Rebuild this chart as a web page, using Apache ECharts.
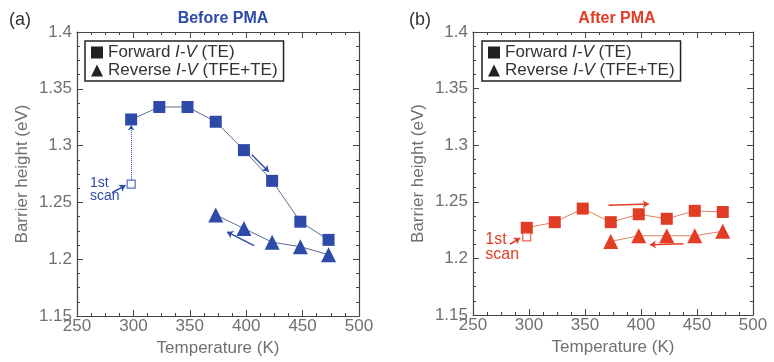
<!DOCTYPE html>
<html>
<head>
<meta charset="utf-8">
<script src="https://cdn.jsdelivr.net/npm/echarts@6/dist/echarts.min.js"></script>
<style>
html,body{margin:0;padding:0;background:#fff;}
#chart{width:774px;height:362px;}
</style>
</head>
<body>
<div id="chart"></div>
<script>
// (a) before PMA
var tempsA = [298, 323, 348, 373, 398, 423, 448, 473];
var fwdA = [1.323, 1.334, 1.334, 1.321, 1.296, 1.269, 1.233, 1.217];
var revTempsA = [373, 398, 423, 448, 473];
var revA = [1.239, 1.227, 1.215, 1.211, 1.204];
var firstScanA = [[298, 1.266]];
// (b) after PMA
var tempsB = [298, 323, 348, 373, 398, 423, 448, 473];
var fwdB = [1.227, 1.232, 1.244, 1.232, 1.239, 1.235, 1.242, 1.241];
var revTempsB = [373, 398, 423, 448, 473];
var revB = [1.215, 1.220, 1.220, 1.220, 1.224];
var firstScanB = [[298, 1.219]];

var xTicks = ['250', '300', '350', '400', '450', '500'];
var yTicks = ['1.15', '1.2', '1.25', '1.3', '1.35', '1.4'];

// arrows drawn in data units [x1,y1,x2,y2]
var arrowsA = [[405, 1.292, 420, 1.277], [407, 1.212, 383, 1.224]];
var arrowsB = [[371, 1.247, 407, 1.248], [438, 1.213, 408, 1.212]];
var scanArrowA = [[298, 1.269, 298, 1.318]];
var scanPtrA = [[281, 1.2585, 293, 1.265]];
var scanPtrB = [[283, 1.2125, 292, 1.218]];
// "1st scan" text anchor (top-left) and font size
var scanLabelA = [261.5, 1.2725, 14];
var scanLabelB = [261.0, 1.2235, 16];

var blue = '#2d4aa8', red = '#e23b26';
var axisColor = '#444', textColor = '#707070';

function pairs(xs, ys){
    var out = [];
    for (var i = 0; i < xs.length; i++) out.push([xs[i], ys[i]]);
    return out;
}
function arrowLines(list){
    return list.map(function(a){ return [{coord:[a[0], a[1]]}, {coord:[a[2], a[3]]}]; });
}
function yFmt(v){ return yTicks[Math.round((v - 1.15) / 0.05)]; }
function xFmt(v){ return xTicks[Math.round((v - 250) / 50)]; }

function xAx(grid, top){
    return {
        gridIndex: grid, type: 'value', min: 250, max: 500, interval: 50,
        position: top ? 'top' : 'bottom',
        name: top ? '' : 'Temperature (K)', nameLocation: 'middle', nameGap: 24,
        nameTextStyle: {color: textColor, fontSize: 17, fontFamily: 'Liberation Sans'},
        axisLine: {lineStyle: {color: axisColor, width: 1.2}},
        axisTick: {inside: true, length: 6, lineStyle: {color: axisColor}},
        minorTick: {show: true, splitNumber: 4, length: 3, lineStyle: {color: axisColor}},
        axisLabel: {show: !top, margin: 2, color: textColor, fontSize: 17, fontFamily: 'Liberation Sans', formatter: xFmt},
        splitLine: {show: false}
    };
}
function yAx(grid, right){
    return {
        gridIndex: grid, type: 'value', min: 1.15, max: 1.4, interval: 0.05,
        position: right ? 'right' : 'left',
        name: right ? '' : 'Barrier height (eV)', nameLocation: 'middle', nameGap: 46,
        nameTextStyle: {color: textColor, fontSize: 17, fontFamily: 'Liberation Sans'},
        axisLine: {lineStyle: {color: axisColor, width: 1.2}},
        axisTick: {inside: true, length: 6, lineStyle: {color: axisColor}},
        minorTick: {show: true, splitNumber: 4, length: 3, lineStyle: {color: axisColor}},
        axisLabel: {show: !right, margin: 5, color: textColor, fontSize: 17, fontFamily: 'Liberation Sans', formatter: yFmt},
        splitLine: {show: false}
    };
}

function panelSeries(xi, yi, color, lineColor, fwd, rev, first, arrows, scanArrow, scanPtr, scanLabel){
    var list = [
        {
            name: 'Forward', type: 'line', xAxisIndex: xi, yAxisIndex: yi, data: fwd,
            symbol: 'rect', symbolSize: 12, itemStyle: {color: color},
            lineStyle: {color: lineColor, width: 1}, z: 3,
            markLine: {
                silent: true, symbol: ['none', 'arrow'], symbolSize: 6,
                lineStyle: {color: color, width: 1.4, type: 'solid'}, label: {show: false},
                data: arrowLines(arrows)
            }
        },
        {
            name: 'Reverse', type: 'line', xAxisIndex: xi, yAxisIndex: yi, data: rev,
            symbol: 'triangle', symbolSize: 15, itemStyle: {color: color},
            lineStyle: {color: lineColor, width: 1}, z: 3
        },
        {
            name: 'first', type: 'scatter', xAxisIndex: xi, yAxisIndex: yi, data: first,
            symbol: 'rect', symbolSize: 8,
            itemStyle: {color: '#fff', borderColor: color, borderWidth: 1.2}, z: 4,
            markLine: {
                silent: true, symbol: ['none', 'arrow'], symbolSize: 6, label: {show: false},
                lineStyle: {color: color, width: 1.5, type: 'solid'},
                data: arrowLines(scanPtr)
            },
            markPoint: {
                silent: true, symbol: 'rect', symbolSize: 0,
                label: {show: true, formatter: '1st\nscan', color: color, fontSize: scanLabel[2],
                    lineHeight: scanLabel[2] - 1,
                    fontFamily: 'Liberation Sans', align: 'left', verticalAlign: 'top', position: 'inside'},
                data: [{coord: [scanLabel[0], scanLabel[1]]}]
            }
        }
    ];
    if (scanArrow) {
        list.push({
            name: 'scanArrow', type: 'scatter', xAxisIndex: xi, yAxisIndex: yi, data: [],
            markLine: {
                silent: true, symbol: ['none', 'arrow'], symbolSize: 5, label: {show: false},
                lineStyle: {color: color, width: 1, type: 'dotted'},
                data: arrowLines(scanArrow)
            }
        });
    }
    return list;
}

function legendFor(left){
    return {
        left: left, top: 41, orient: 'vertical', itemGap: 1, itemWidth: 12, itemHeight: 12,
        borderColor: '#222', borderWidth: 1.5, padding: [3, 6, 2, 6],
        selectedMode: false,
        itemStyle: {color: '#222'},
        lineStyle: {width: 0},
        textStyle: {
            color: '#333', fontSize: 17, fontFamily: 'Liberation Sans',
            rich: {
                n: {fontSize: 17, color: '#333', fontFamily: 'Liberation Sans'},
                i: {fontSize: 17, color: '#333', fontStyle: 'italic', fontFamily: 'Liberation Sans'}
            }
        },
        formatter: function(name){
            return name === 'Forward' ? '{n|Forward }{i|I-V}{n| (TE)}' : '{n|Reverse }{i|I-V}{n| (TFE+TE)}';
        },
        data: [{name: 'Forward', icon: 'rect'}, {name: 'Reverse', icon: 'triangle'}]
    };
}

var myChart = echarts.init(document.getElementById('chart'));
var option = {
    backgroundColor: '#fff',
    animation: false,
    title: [
        {text: 'Before PMA', left: 218, top: 6, textAlign: 'center',
            textStyle: {color: blue, fontSize: 16, fontWeight: 'bold', fontFamily: 'Liberation Sans'}},
        {text: 'After PMA', left: 612, top: 6, textAlign: 'center',
            textStyle: {color: red, fontSize: 16, fontWeight: 'bold', fontFamily: 'Liberation Sans'}},
        {text: '(a)', left: 4, top: 6, textStyle: {color: '#333', fontSize: 18, fontWeight: 'normal', fontFamily: 'Liberation Sans'}},
        {text: '(b)', left: 404, top: 6, textStyle: {color: '#333', fontSize: 18, fontWeight: 'normal', fontFamily: 'Liberation Sans'}}
    ],
    legend: [legendFor(85), legendFor(482)],
    grid: [
        {left: 77, top: 32, width: 282, height: 284},
        {left: 473, top: 32, width: 280, height: 283}
    ],
    xAxis: [xAx(0, false), xAx(0, true), xAx(1, false), xAx(1, true)],
    yAxis: [yAx(0, false), yAx(0, true), yAx(1, false), yAx(1, true)],
    series: [].concat(
        panelSeries(0, 0, blue, '#5d6b95', pairs(tempsA, fwdA), pairs(revTempsA, revA), firstScanA, arrowsA, scanArrowA, scanPtrA, scanLabelA),
        panelSeries(2, 2, red, '#e0825f', pairs(tempsB, fwdB), pairs(revTempsB, revB), firstScanB, arrowsB, null, scanPtrB, scanLabelB)
    )
};
myChart.setOption(option);
</script>
</body>
</html>
